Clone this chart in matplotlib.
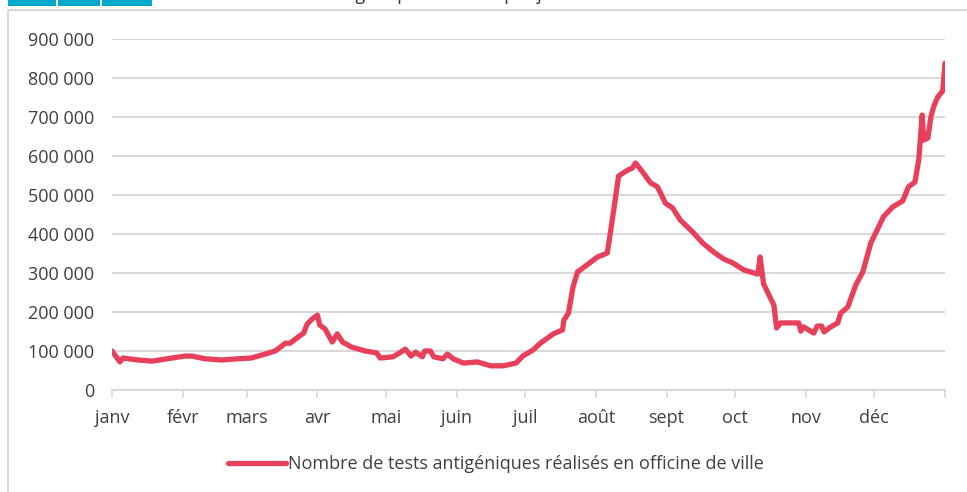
import matplotlib.pyplot as plt
from matplotlib.patches import Rectangle

# day of year (0 = 1 Jan) and daily antigen tests
days = [0, 3.5, 4.8, 11.4, 17.5, 26.3, 32, 35, 40.8, 48, 55, 61, 67, 71.5,
        76, 78, 81.6, 84, 85.5, 87.7, 90, 91, 93.4, 96.5, 98.7, 101, 105,
        111, 116, 117.5, 123, 126, 128.5, 131, 133, 136, 137, 139.5, 141,
        145, 147, 149.5, 154, 160, 166, 171.5, 177, 180, 184.6, 187.7, 190.8,
        193.4, 197.4, 198, 200, 202, 204, 208, 212.7, 217, 219, 222, 226,
        228, 229.4, 232.5, 236, 239, 242.5, 245.6, 249, 254.8, 258.8, 263.6,
        268, 272, 276.8, 283, 284, 285.5, 290, 291.2, 293, 297, 300.9, 301.8,
        303, 307.5, 309, 311, 312, 315, 318, 319.3, 322.4, 325.9, 329, 332.5,
        335.5, 338, 342, 346.5, 349, 351.8, 353.5, 355, 355.7, 357.5, 358.8,
        360, 361.8, 364, 365]
tests_k = [100, 72, 82, 77, 74, 82, 87, 87, 80, 77, 80, 82, 92, 100,
           120, 120, 136, 146, 169, 182, 192, 167, 156, 123, 144, 123, 110,
           100, 95, 82, 85, 95, 105, 87, 97, 85, 100, 100, 85,
           80, 92, 80, 69, 72, 62, 62, 69, 87, 103, 120, 133,
           144, 154, 179, 197, 264, 303, 320, 341, 351, 428, 549, 564,
           569, 582, 559, 531, 521, 479, 467, 436, 403, 377, 354,
           336, 326, 308, 297, 341, 272, 218, 159, 172, 172, 172, 151,
           162, 146, 164, 164, 149, 162, 172, 197, 213, 269, 303, 377,
           413, 444, 469, 485, 521, 533, 590, 705, 641, 646, 700,
           726, 751, 767, 838]
tests = [v * 1000 for v in tests_k]

month_starts = [0, 31, 59, 90, 120, 151, 181, 212, 243, 273, 304, 334, 365]
month_labels = ["janv", "févr", "mars", "avr", "mai", "juin", "juil",
                "août", "sept", "oct", "nov", "déc", ""]
y_ticks = [0, 100000, 200000, 300000, 400000, 500000, 600000, 700000,
           800000, 900000]
y_labels = ["0"] + ["%d 000" % (v // 1000) for v in y_ticks[1:]]
series_name = "Nombre de tests antigéniques réalisés en officine de ville"
title = "Nombre de tests antigéniques réalisés par jour en ville"

plt.rcParams['font.family'] = ['Open Sans', 'DejaVu Sans']
W, H = 967, 492
red = "#E83F5B"
grid = "#D9D9D9"
txt = "#404040"

fig = plt.figure(figsize=(W / 100, H / 100), dpi=100)

# outer frame and the header, cut off at the top as in the source
fig.patches.append(Rectangle((8 / W, -0.1), 1.2, 1 - 10 / H + 0.1,
                             transform=fig.transFigure, fill=False,
                             edgecolor="#D0D0D0", linewidth=1.2))
for x0, x1 in [(8, 56), (58, 100), (102, 152)]:
    fig.patches.append(Rectangle((x0 / W, 1 - 5.5 / H), (x1 - x0) / W,
                                 0.05, transform=fig.transFigure,
                                 color="#00A8CB", linewidth=0))
fig.text(179 / W, 1 - 0.2 / H, title, fontsize=13, color="#333333",
         va="baseline", ha="left")

ax = fig.add_axes([112 / W, 1 - 390 / H, 833 / W, (390 - 39) / H])
ax.plot(days, tests, color=red, linewidth=3.8, solid_capstyle="round",
        solid_joinstyle="round", label=series_name, zorder=3)

ax.set_xlim(0, 365)
ax.set_ylim(0, 900000)
ax.set_yticks(y_ticks)
ax.set_yticklabels(y_labels)
ax.set_xticks(month_starts)
ax.set_xticklabels(month_labels)
ax.grid(axis="y", color=grid, linewidth=1.5)
ax.set_axisbelow(True)
for s in ["top", "right", "left"]:
    ax.spines[s].set_visible(False)
ax.spines["bottom"].set_color(grid)
ax.spines["bottom"].set_linewidth(1.5)
ax.tick_params(axis="y", length=0, pad=13, labelsize=13, labelcolor=txt)
ax.tick_params(axis="x", length=6, width=1.2, color=grid, pad=8,
               labelsize=13, labelcolor=txt)

fig.legend(loc="center", bbox_to_anchor=(496 / W, 1 - 464 / H),
           frameon=False, fontsize=13, handlelength=3.2, handletextpad=0.1,
           labelcolor=txt)

fig.savefig("out.png", dpi=100)
